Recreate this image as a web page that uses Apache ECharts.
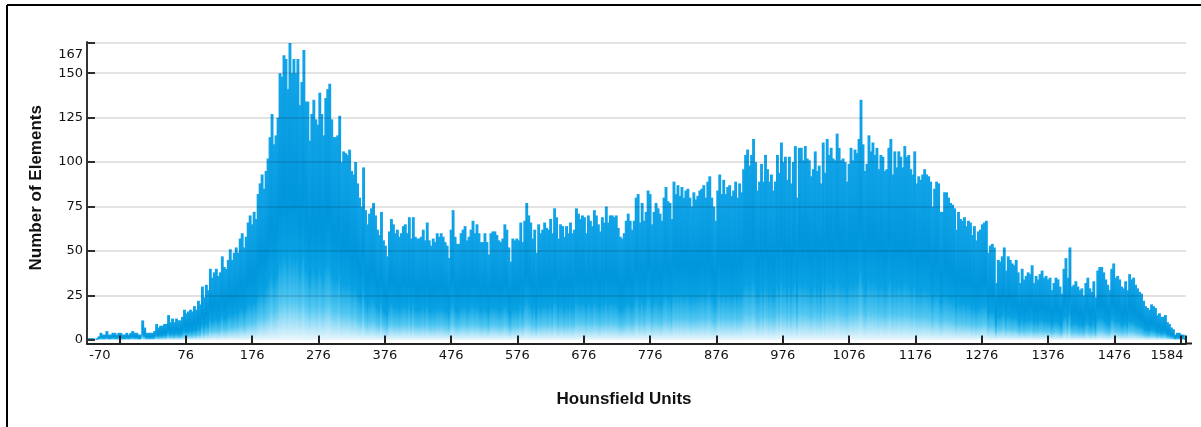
<!DOCTYPE html>
<html>
<head>
<meta charset="utf-8">
<script src="https://cdn.jsdelivr.net/npm/echarts@6/dist/echarts.min.js"></script>
<style>html,body{margin:0;padding:0;background:#fff;}#c{width:1201px;height:427px;}</style>
</head>
<body>
<div id="c"></div>
<script>
// Histogram bins: HU value of first bin and bin width (HU)
const binStartHU = -70;
const binStepHU = 3;

// Counts per bin
const countsA = [ // -70 .. 209 HU
1,1,1,0,1,2,4,3,3,5, 3,3,4,4,3,4,4,3,3,4, 3,4,5,4,4,3,3,11,7,4,
4,4,4,5,9,7,8,8,9,9, 14,10,12,10,12,11,11,13,17,15, 16,17,16,19,17,22,20,30,24,31,
28,40,35,38,40,36,38,47,41,40, 45,51,45,49,52,49,57,60,52,58, 66,70,65,72,68,82,88,93,85,95,
102,114,127,110];
const countsB = [ // 212 .. 488 HU
115,125,150,148,160,158,141,167,150,158, 150,158,132,145,163,134,134,112,127,135,
124,121,139,127,115,136,141,144,124,114, 114,115,126,100,106,105,104,107,95,93,
100,88,80,75,97,73,65,71,74,77, 70,62,59,72,56,53,47,61,68,65,
60,62,58,60,64,65,60,69,57,69, 58,57,57,58,62,56,66,56,53,57,
55,60,58,60,58,55,53,46,62,73, 58,54,54];
const countsC = [ // 491 .. 767 HU
60,62,64,56,58,62,67,60,65,60, 55,55,60,55,48,60,61,61,59,56,
55,57,65,62,52,44,57,56,57,56, 66,55,67,77,70,66,57,62,49,65,
60,62,66,63,62,68,60,74,69,57, 65,64,58,64,60,66,60,62,74,71,
68,70,69,60,70,67,64,73,70,65, 61,69,66,75,66,70,70,69,70,63,
58,57,60,67,71,67,62,67,80,82, 66,77,67];
const countsD = [ // 770 .. 1046 HU
72,84,82,65,72,77,74,71,67,80, 86,78,77,68,89,82,87,81,86,80,
84,85,80,75,83,79,81,84,85,87, 80,89,92,80,75,67,84,93,82,90,
82,86,87,81,84,89,80,88,83,96, 104,107,98,104,113,100,84,89,99,89,
104,96,89,93,84,89,104,94,111,100, 103,90,103,88,100,109,80,108,108,101,
109,102,101,92,96,106,95,98,88,111, 94,113,104];
const countsE = [ // 1049 .. 1325 HU
108,102,101,116,108,101,102,100,89,99, 108,101,107,105,113,135,110,95,99,115,
106,111,104,108,96,104,103,95,96,108, 113,93,106,97,106,103,97,109,103,104,
96,93,106,88,92,90,93,96,93,92, 89,75,85,89,88,72,72,83,83,80,
77,76,74,62,72,68,67,69,64,67, 66,59,64,56,61,62,65,66,67,49,
53,54,52,32,45,44,47,52,39,47, 45,43,42];
const countsF = [ // 1328 .. 1583 HU
45,38,32,40,34,36,38,37,42,32, 36,34,37,39,35,36,34,35,28,32,
35,34,30,26,40,46,35,52,30,31, 33,30,28,29,25,32,35,29,27,33,
24,39,41,41,38,34,31,28,40,43, 35,36,34,30,29,33,28,37,34,35,
31,29,27,26,22,19,18,17,20,19, 18,14,15,13,13,14,10,9,7,6,
3,4,4,3,3,1];

const xLabelValues = [-70,76,176,276,376,476,576,676,776,876,976,1076,1176,1276,1376,1476,1584];
const xTickValues = [-24,76,176,276,376,476,576,676,776,876,976,1076,1176,1276,1376,1476,1576,1584];
const yLabelValues = [0,25,50,75,100,125,150,167];
const gridValues = [25,50,75,100,125,150,167];

const xTitle = 'Hounsfield Units';
const yTitle = 'Number of Elements';

const xMin = -73, xMax = 1584;
const counts = [].concat(countsA, countsB, countsC, countsD, countsE, countsF);
const seriesData = counts.map((v, i) => [binStartHU + binStepHU * i, v]);
const gridLineData = gridValues.map(v => [{coord: [xMin, v]}, {coord: [xMax, v]}]);

const chart = echarts.init(document.getElementById('c'), null, {renderer: 'canvas'});
const labelFont = 'DejaVu Sans';
chart.setOption({
  animation: false,
  backgroundColor: '#fff',
  grid: {left: 87, right: 15, top: 42, bottom: 83.5, outerBoundsMode: 'none', containLabel: false},
  xAxis: {
    type: 'value', min: xMin, max: xMax, z: 3,
    name: xTitle, nameLocation: 'middle', nameGap: 47,
    nameTextStyle: {fontFamily: 'Liberation Sans', fontWeight: 'bold', fontSize: 17, color: '#111', padding: [0, 25, 0, 0]},
    axisLine: {onZero: false, lineStyle: {color: '#222', width: 2}},
    axisTick: {show: true, inside: true, length: 8, customValues: xTickValues, lineStyle: {color: '#222', width: 2}},
    axisLabel: {
      customValues: xLabelValues, margin: 6, color: '#111', fontFamily: labelFont, fontSize: 13,
      formatter: function (v) {
        if (v === -70) return '{l|' + v + '}';
        if (v === 1584) return '{r|' + v + '}';
        return String(v);
      },
      rich: {
        l: {padding: [0, 0, 0, 22], fontFamily: labelFont, fontSize: 13, color: '#111'},
        r: {padding: [0, 38, 0, 0], fontFamily: labelFont, fontSize: 13, color: '#111'}
      }
    },
    splitLine: {show: false}
  },
  yAxis: {
    type: 'value', min: -2, max: 167.5, z: 3,
    name: yTitle, nameLocation: 'middle', nameGap: 42, nameRotate: 90,
    nameTextStyle: {fontFamily: 'Liberation Sans', fontWeight: 'bold', fontSize: 17, color: '#111', padding: [0, 0, 0, 10]},
    axisLine: {show: true, onZero: false, lineStyle: {color: '#333', width: 2}},
    axisTick: {show: true, inside: true, length: 8, customValues: yLabelValues, lineStyle: {color: '#333', width: 2}},
    axisLabel: {
      customValues: yLabelValues, margin: 4, color: '#111', fontFamily: labelFont, fontSize: 13,
      formatter: function (v) { return v === 167 ? '{t|167}' : String(v); },
      rich: {t: {padding: [24, 0, 0, 0], fontFamily: labelFont, fontSize: 13, color: '#111'}}
    },
    splitLine: {show: false}
  },
  series: [{
    type: 'bar',
    data: seriesData,
    barWidth: 2.9,
    z: 2,
    itemStyle: {
      color: new echarts.graphic.LinearGradient(0, 0, 0, 1, [
        {offset: 0, color: '#12a4e8'},
        {offset: 0.5, color: '#0096dc'},
        {offset: 0.7, color: '#08a2e3'},
        {offset: 0.86, color: '#52c7f1'},
        {offset: 1, color: '#eaf7fd'}
      ])
    },
    markLine: {
      silent: true,
      symbol: ['none', 'none'],
      label: {show: false},
      lineStyle: {color: 'rgba(0,0,0,0.11)', width: 2, type: 'solid'},
      data: gridLineData
    }
  }],
  graphic: [
    {type: 'line', shape: {x1: 7, y1: 5, x2: 1201, y2: 5}, style: {stroke: '#000', lineWidth: 2}},
    {type: 'line', shape: {x1: 7, y1: 5, x2: 7, y2: 427}, style: {stroke: '#000', lineWidth: 2}},
    {type: 'line', shape: {x1: 1185, y1: 343.5, x2: 1192, y2: 343.5}, style: {stroke: '#222', lineWidth: 2}}
  ]
});
</script>
</body>
</html>
